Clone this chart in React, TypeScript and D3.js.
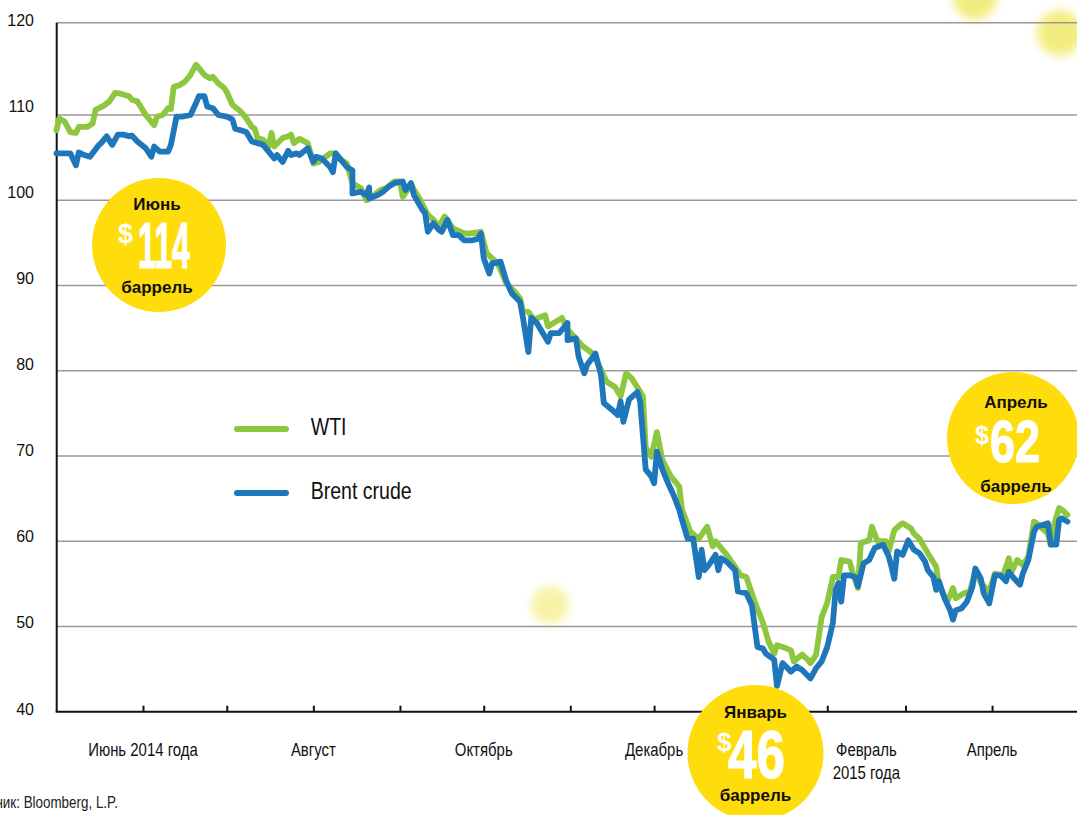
import React, { useEffect, useRef } from "react";
import * as d3 from "d3";

// ---------- DATA ----------
// day offsets counted from 1 May 2014
const wtiDays = [0,1,3,5,7,8,11,13,14,17,19,21,23,26,27,29,32,35,36,38,40,41,42,44,46,48,50,51,53,55,56,58,60,61,63,66,68,70,71,72,74,76,77,78,81,83,84,85,87,90,92,94,98,100,101,104,106,109,111,113,116,118,121,123,124,127,130,133,135,137,139,142,146,148,152,154,158,161,164,166,167,169,171,175,176,181,183,186,188,192,195,197,200,202,204,206,210,211,213,215,217,220,223,224,227,230,233,235,236,238,240,243,245,247,250,253,255,257,258,260,263,264,267,269,270,272,274,276,278,280,281,284,285,287,288,291,292,294,297,298,300,302,303,306,307,309,312,315,316,319,321,322,325,327,329,331,334,336,339,341,342,344,346,348,350,351,355,356,357,359,360,362];
const wtiPrice = [108.2,109.6,109.2,108.0,107.9,108.6,108.6,109.0,110.6,111.1,111.6,112.6,112.5,112.2,111.8,111.6,110.0,108.8,109.8,110.0,110.8,110.7,113.3,113.5,113.9,114.7,115.9,115.5,114.7,114.3,114.5,113.7,113.2,112.7,111.2,110.4,109.6,108.6,108.4,107.3,107.1,106.3,107.9,106.3,107.3,107.5,107.7,106.7,107.2,106.7,104.3,104.5,105.5,105.5,104.9,104.3,102.0,101.4,100.0,100.4,101.2,101.4,102.2,102.2,100.4,101.8,100.2,98.3,97.7,96.9,98.1,96.7,96.1,96.1,96.3,93.8,92.6,90.3,89.3,88.5,87.1,86.9,86.0,86.5,85.2,86.2,84.8,83.8,83.0,82.0,80.1,78.7,78.1,77.0,79.7,79.1,77.0,71.0,69.9,72.8,69.5,67.6,66.4,63.7,61.1,60.3,61.7,59.4,60.0,59.2,58.4,57.0,56.0,55.8,52.9,50.4,48.2,46.8,47.8,47.6,47.2,45.9,46.7,46.1,45.7,46.7,51.1,52.8,55.8,55.8,57.8,57.6,56.4,54.5,59.8,60.1,61.7,60.0,60.0,58.8,61.3,61.9,62.1,61.5,60.9,60.3,58.6,57.0,54.7,52.9,54.5,53.3,53.9,54.1,56.4,55.1,54.1,56.2,56.0,58.0,56.4,57.8,57.2,58.2,62.3,62.1,60.9,59.6,61.7,63.9,63.7,63.1];

const brentDays = [0,2,5,7,8,10,12,15,16,18,20,22,24,26,27,29,32,34,35,37,40,41,43,45,48,50,51,53,54,56,58,61,63,64,66,68,70,72,74,76,78,79,81,83,84,86,87,90,92,93,95,98,99,100,102,104,106,106,109,111,112,112,115,117,119,121,124,125,127,128,131,132,133,135,137,138,140,142,144,146,147,149,151,152,153,155,156,159,161,163,166,167,169,170,172,176,177,180,183,183,186,187,189,190,193,195,196,199,201,202,203,205,208,209,211,213,214,215,217,219,221,223,224,226,228,230,231,232,234,236,237,238,240,243,244,247,249,251,253,254,257,258,260,263,265,267,270,272,274,276,278,279,280,281,282,284,286,287,289,291,293,296,298,299,300,301,303,305,307,309,311,312,314,315,316,318,320,321,322,324,326,328,329,331,332,334,336,338,340,341,343,345,346,348,350,351,355,356,358,359,360,362];
const brentPrice = [105.5,105.5,105.5,104.1,105.6,105.3,105.1,106.4,106.7,107.5,106.5,107.7,107.7,107.5,107.6,106.9,106.1,105.1,106.3,105.7,105.7,106.5,109.8,109.8,110.0,111.4,112.2,112.2,111.0,110.8,110.0,109.8,109.5,108.4,108.2,108.0,106.9,106.7,106.5,105.7,104.9,105.3,104.5,105.8,105.3,105.5,105.3,106.1,104.5,105.1,104.9,103.9,103.3,105.5,104.7,103.9,103.5,100.8,101.0,100.6,101.5,100.2,100.6,101.0,101.6,102.0,102.2,101.2,102.0,100.6,98.9,98.5,96.3,97.3,96.5,96.3,97.7,95.9,95.9,95.3,95.3,95.3,95.5,96.1,93.2,91.4,92.6,92.8,90.6,89.1,88.1,86.3,82.2,86.2,85.6,83.4,84.4,84.4,85.6,83.6,83.8,81.6,79.7,80.7,82.0,79.5,76.2,75.4,74.8,76.4,74.0,76.6,77.5,76.4,68.4,67.6,66.8,70.5,68.4,66.8,65.4,63.7,62.5,60.3,60.3,55.8,59.0,56.6,57.4,58.4,56.6,58.0,57.6,56.6,54.1,53.9,52.5,47.6,47.4,46.8,46.1,43.0,45.7,44.7,45.3,44.9,43.9,45.1,45.9,47.6,50.4,54.3,55.1,52.9,56.0,56.0,55.8,54.7,57.4,57.8,59.2,59.6,58.2,57.0,55.6,58.8,58.4,60.1,59.0,58.6,57.6,56.6,55.8,54.3,55.3,53.3,51.9,50.8,51.9,52.1,52.9,54.7,56.8,55.6,53.9,52.7,56.0,56.0,55.3,56.4,55.6,54.9,56.2,57.8,61.1,61.7,62.1,59.6,59.6,62.5,62.7,62.3];

const seriesNames = ["WTI", "Brent crude"];
const yTickValues = [40, 50, 60, 70, 80, 90, 100, 110, 120];
const gridValues = [50, 60, 70, 80, 90, 100, 110];
const monthTicks = ["2014-06-01","2014-07-01","2014-08-01","2014-09-01","2014-10-01","2014-11-01","2014-12-01","2015-01-01","2015-02-01","2015-03-01","2015-04-01"];
const xLabelDates = ["2014-06-01","2014-08-01","2014-10-01","2014-12-01","2015-02-15","2015-04-01"];
const xLabelLines = [["Июнь 2014 года"],["Август"],["Октябрь"],["Декабрь"],["Февраль","2015 года"],["Апрель"]];
const badgeMonths = ["Июнь", "Январь", "Апрель"];
const badgePrices = [114, 46, 62];
const badgeUnit = "баррель";
const sourceText = "Источник: Bloomberg, L.P.";

// ---------- LAYOUT / STYLE ----------
const W = 1077, H = 815;
const AXIS_X = 56.7, AXIS_Y = 711.7, PLOT_TOP = 22.7, PLOT_RIGHT = 1077;
const X0 = 56.4, PX_PER_DAY = 2.793;
const GREEN = "#8DC63F", BLUE = "#1E76BB", YELLOW = "#FFDC0B";
const REG = "'Liberation Sans', Arial, Helvetica, sans-serif";
const CONDENSE = 0.83;

const badgeLayout = [
  { cx: 159, cy: 245, r: 67, tx: 157, labelY: 203.7, unitY: 288, dx0: 138, dx1: 190, dBase: 268.3, dSize: 65, sX: 118, sBase: 243, sSize: 27 },
  { cx: 755.5, cy: 753, r: 68, tx: 755.5, labelY: 712.3, unitY: 796, dx0: 728, dx1: 785, dBase: 778, dSize: 68, sX: 717, sBase: 751, sSize: 26 },
  { cx: 1013, cy: 438, r: 66, tx: 1016, labelY: 402.3, unitY: 486.7, dx0: 990, dx1: 1040, dBase: 462, dSize: 59, sX: 975, sBase: 444, sSize: 25 },
];
const blobs = [
  { x: 975, y: -2, r: 22, o: 0.8 },
  { x: 1060, y: 33, r: 23, o: 0.8 },
  { x: 550, y: 605, r: 19, o: 0.55 },
];

export default function App() {
  const ref = useRef<SVGSVGElement | null>(null);

  useEffect(() => {
    const svg = d3.select(ref.current);
    svg.selectAll("*").remove();
    const parse = d3.timeParse("%Y-%m-%d");
    const start = new Date(2014, 4, 1);
    const end = new Date(2015, 4, 1);
    const nDays = d3.timeDay.count(start, end);
    const x = d3.scaleTime().domain([start, end]).range([X0, X0 + nDays * PX_PER_DAY]);
    const y = d3.scaleLinear().domain([40, 110]).range([AXIS_Y, 115]);
    const yLab = d3.scaleLinear().domain([40, 120]).range([714.5, 26.2]);

    const defs = svg.append("defs");
    defs.append("filter").attr("id", "blur").attr("x", "-60%").attr("y", "-60%").attr("width", "220%").attr("height", "220%")
      .append("feGaussianBlur").attr("stdDeviation", 5);

    svg.append("rect").attr("width", W).attr("height", H).attr("fill", "#fff");

    // decorative blurred blobs
    svg.append("g").selectAll("circle").data(blobs).join("circle")
      .attr("cx", d => d.x).attr("cy", d => d.y).attr("r", d => d.r)
      .attr("fill", "#F0E85E").attr("opacity", d => d.o).attr("filter", "url(#blur)");

    // grid
    svg.append("g").selectAll("line").data(gridValues).join("line")
      .attr("x1", AXIS_X).attr("x2", PLOT_RIGHT)
      .attr("y1", d => y(d)).attr("y2", d => y(d))
      .attr("stroke", "#999").attr("stroke-width", 1.6);
    svg.append("line").attr("x1", AXIS_X).attr("x2", PLOT_RIGHT).attr("y1", PLOT_TOP).attr("y2", PLOT_TOP)
      .attr("stroke", "#999").attr("stroke-width", 1.6);

    // y labels
    svg.append("g").selectAll("text").data(yTickValues).join("text")
      .attr("x", 34).attr("y", d => yLab(d)).attr("text-anchor", "end")
      .attr("font-family", REG).attr("font-size", 16).attr("fill", "#111")
      .text(d => d);

    // axes
    svg.append("line").attr("x1", AXIS_X).attr("x2", AXIS_X).attr("y1", PLOT_TOP).attr("y2", AXIS_Y)
      .attr("stroke", "#111").attr("stroke-width", 2);
    svg.append("line").attr("x1", AXIS_X - 1).attr("x2", PLOT_RIGHT).attr("y1", AXIS_Y).attr("y2", AXIS_Y)
      .attr("stroke", "#111").attr("stroke-width", 2);
    const xAxis = d3.axisBottom(x).tickValues(monthTicks.map(s => parse(s)!)).tickSize(-6).tickFormat(() => "");
    const gx = svg.append("g").attr("transform", `translate(0,${AXIS_Y})`).call(xAxis as any);
    gx.select(".domain").remove();
    gx.selectAll(".tick line").attr("stroke", "#111").attr("stroke-width", 2);

    // x labels (condensed)
    const gl = svg.append("g");
    xLabelDates.forEach((s, i) => {
      const px = x(parse(s)!);
      const t = gl.append("text").attr("transform", `translate(${px},756.3) scale(${CONDENSE},1)`)
        .attr("text-anchor", "middle").attr("font-family", REG).attr("font-size", 18).attr("fill", "#111");
      xLabelLines[i].forEach((line, j) => {
        t.append("tspan").attr("x", 0).attr("dy", j === 0 ? 0 : 22.7).text(line);
      });
    });

    // series
    const wti = wtiDays.map((d, i) => ({ date: d3.timeDay.offset(start, d), v: wtiPrice[i] }));
    const brent = brentDays.map((d, i) => ({ date: d3.timeDay.offset(start, d), v: brentPrice[i] }));
    const line = d3.line<{ date: Date; v: number }>().x(d => x(d.date)).y(d => y(d.v));
    [[wti, GREEN], [brent, BLUE]].forEach(([data, color]) => {
      svg.append("path").datum(data as any).attr("d", line as any).attr("fill", "none")
        .attr("stroke", color as string).attr("stroke-width", 5.8)
        .attr("stroke-linejoin", "round").attr("stroke-linecap", "round");
    });

    // legend
    const legendY = [429, 493];
    const legendBase = [435, 499.3];
    [GREEN, BLUE].forEach((c, i) => {
      svg.append("line").attr("x1", 237).attr("x2", 286).attr("y1", legendY[i]).attr("y2", legendY[i])
        .attr("stroke", c).attr("stroke-width", 6).attr("stroke-linecap", "round");
      svg.append("text").attr("transform", `translate(310.7,${legendBase[i]}) scale(0.85,1)`)
        .attr("font-family", REG).attr("font-size", 23).attr("fill", "#111").text(seriesNames[i]);
    });

    // source (cut at left edge as in the original)
    svg.append("text").attr("transform", `translate(118,808) scale(0.86,1)`).attr("text-anchor", "end")
      .attr("font-family", REG).attr("font-size", 15.6).attr("fill", "#222").text(sourceText);

    // badges
    badgeLayout.forEach((b, i) => {
      const g = svg.append("g");
      g.append("circle").attr("cx", b.cx).attr("cy", b.cy).attr("r", b.r).attr("fill", YELLOW);
      g.append("text").attr("x", b.tx).attr("y", b.labelY).attr("dy", "0.36em").attr("text-anchor", "middle")
        .attr("font-family", REG).attr("font-weight", "bold").attr("font-size", 17).attr("fill", "#111")
        .text(badgeMonths[i]);
      g.append("text").attr("x", b.sX).attr("y", b.sBase)
        .attr("font-family", REG).attr("font-weight", "bold").attr("font-size", b.sSize).attr("fill", "#fff")
        .text("$");
      g.append("text").attr("x", b.dx0).attr("y", b.dBase)
        .attr("font-family", REG).attr("font-weight", "bold").attr("font-size", b.dSize).attr("fill", "#fff")
        .attr("stroke", "#fff").attr("stroke-width", 1.2)
        .attr("textLength", b.dx1 - b.dx0).attr("lengthAdjust", "spacingAndGlyphs")
        .text(String(badgePrices[i]));
      g.append("text").attr("x", b.tx).attr("y", b.unitY).attr("dy", "0.3em").attr("text-anchor", "middle")
        .attr("font-family", REG).attr("font-weight", "bold").attr("font-size", 17).attr("fill", "#111")
        .text(badgeUnit);
    });
  }, []);

  return (
    <svg ref={ref} width={W} height={H}
      style={{ position: "absolute", left: 0, top: 0, display: "block" }} />
  );
}
